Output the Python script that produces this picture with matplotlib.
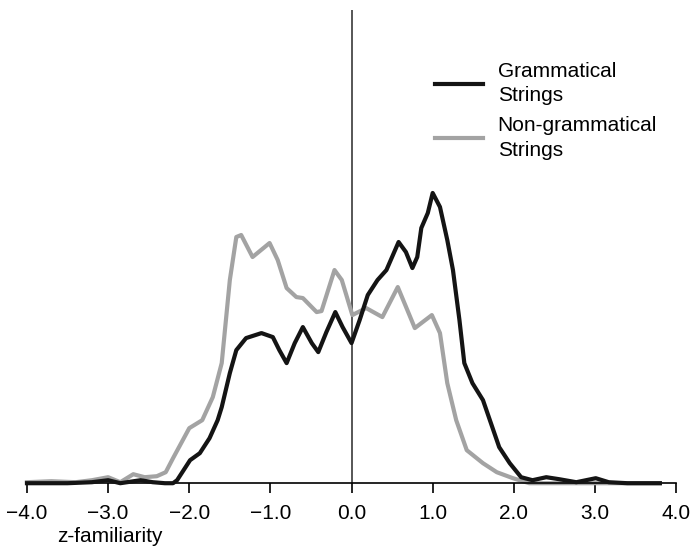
import matplotlib
matplotlib.use("Agg")
import matplotlib.pyplot as plt

plt.rcParams['font.family'] = ['Liberation Sans', 'DejaVu Sans']

# Density estimates of z-familiarity
gram_x = [-4.0, -3.5, -3.2, -3.0, -2.85, -2.6, -2.45, -2.3, -2.2, -2.15, -1.99,
          -1.87, -1.75, -1.65, -1.60, -1.50, -1.42, -1.30, -1.11, -0.97, -0.89,
          -0.80, -0.70, -0.60, -0.49, -0.41, -0.31, -0.20, -0.11, 0.0, 0.10,
          0.20, 0.32, 0.43, 0.58, 0.67, 0.75, 0.81, 0.86, 0.94, 1.0, 1.09,
          1.18, 1.25, 1.33, 1.39, 1.49, 1.62, 1.82, 1.95, 2.09, 2.23, 2.40,
          2.56, 2.77, 3.01, 3.17, 3.4, 3.8]
gram_y = [0.0, 0.0, 0.002, 0.006, 0.0, 0.006, 0.002, 0.0, 0.0, 0.006, 0.046,
          0.060, 0.090, 0.126, 0.152, 0.220, 0.266, 0.290, 0.300, 0.292, 0.266,
          0.240, 0.280, 0.312, 0.280, 0.262, 0.302, 0.342, 0.312, 0.280, 0.326,
          0.376, 0.406, 0.426, 0.482, 0.462, 0.430, 0.452, 0.510, 0.540, 0.580,
          0.552, 0.486, 0.426, 0.326, 0.240, 0.200, 0.166, 0.072, 0.040, 0.012,
          0.006, 0.012, 0.008, 0.002, 0.010, 0.002, 0.0, 0.0]

nongram_x = [-4.0, -3.7, -3.4, -3.2, -3.0, -2.85, -2.69, -2.55, -2.4, -2.29,
             -2.2, -2.08, -2.0, -1.84, -1.71, -1.60, -1.50, -1.42, -1.36, -1.22,
             -1.01, -0.91, -0.80, -0.68, -0.60, -0.43, -0.37, -0.21, -0.12, 0.01,
             0.18, 0.38, 0.57, 0.78, 0.99, 1.09, 1.18, 1.29, 1.42, 1.62, 1.79,
             1.99, 2.19, 3.8]
nongram_y = [0.002, 0.004, 0.002, 0.006, 0.012, 0.002, 0.018, 0.012, 0.014, 0.022,
             0.050, 0.086, 0.110, 0.126, 0.172, 0.240, 0.406, 0.492, 0.496, 0.452,
             0.480, 0.446, 0.390, 0.372, 0.370, 0.342, 0.344, 0.426, 0.406, 0.336,
             0.350, 0.332, 0.392, 0.310, 0.336, 0.300, 0.200, 0.126, 0.066, 0.040,
             0.022, 0.010, 0.0, 0.0]

tick_vals = [-4, -3, -2, -1, 0, 1, 2, 3, 4]
tick_labels = ["\u22124.0", "\u22123.0", "\u22122.0", "\u22121.0", "0.0",
               "1.0", "2.0", "3.0", "4.0"]

fig = plt.figure(figsize=(6.92, 5.46), dpi=100)
ax = fig.add_axes([0.039, 0.115, 0.938, 0.867])

ax.axvline(0, color="#3a3a3a", lw=1.2, zorder=1)
ax.plot(nongram_x, nongram_y, color="#a3a3a3", lw=3.0, solid_joinstyle="round",
        label="Non-grammatical\nStrings", zorder=2, clip_on=False)
ax.plot(gram_x, gram_y, color="#141414", lw=3.0, solid_joinstyle="round",
        label="Grammatical\nStrings", zorder=3, clip_on=False)

ax.set_xlim(-4, 4)
ax.set_ylim(0, 0.946)
for s in ["top", "right", "left"]:
    ax.spines[s].set_visible(False)
ax.spines["bottom"].set_linewidth(1.2)
ax.set_yticks([])
ax.set_xticks(tick_vals)
ax.set_xticklabels(tick_labels, fontsize=15)
ax.tick_params(axis="x", direction="out", length=7, width=1.2, pad=8)

fig.text(0.159, 0.0165, "z-familiarity", fontsize=15, ha="center", va="center")

handles, labels = ax.get_legend_handles_labels()
leg = ax.legend(handles[::-1], labels[::-1], loc="upper left",
                bbox_to_anchor=(0.60, 0.93), frameon=False, fontsize=15,
                handlelength=2.3, handletextpad=0.7, labelspacing=0.55)
for t in leg.get_texts():
    t.set_linespacing(1.35)

fig.savefig("out.png", dpi=100)
